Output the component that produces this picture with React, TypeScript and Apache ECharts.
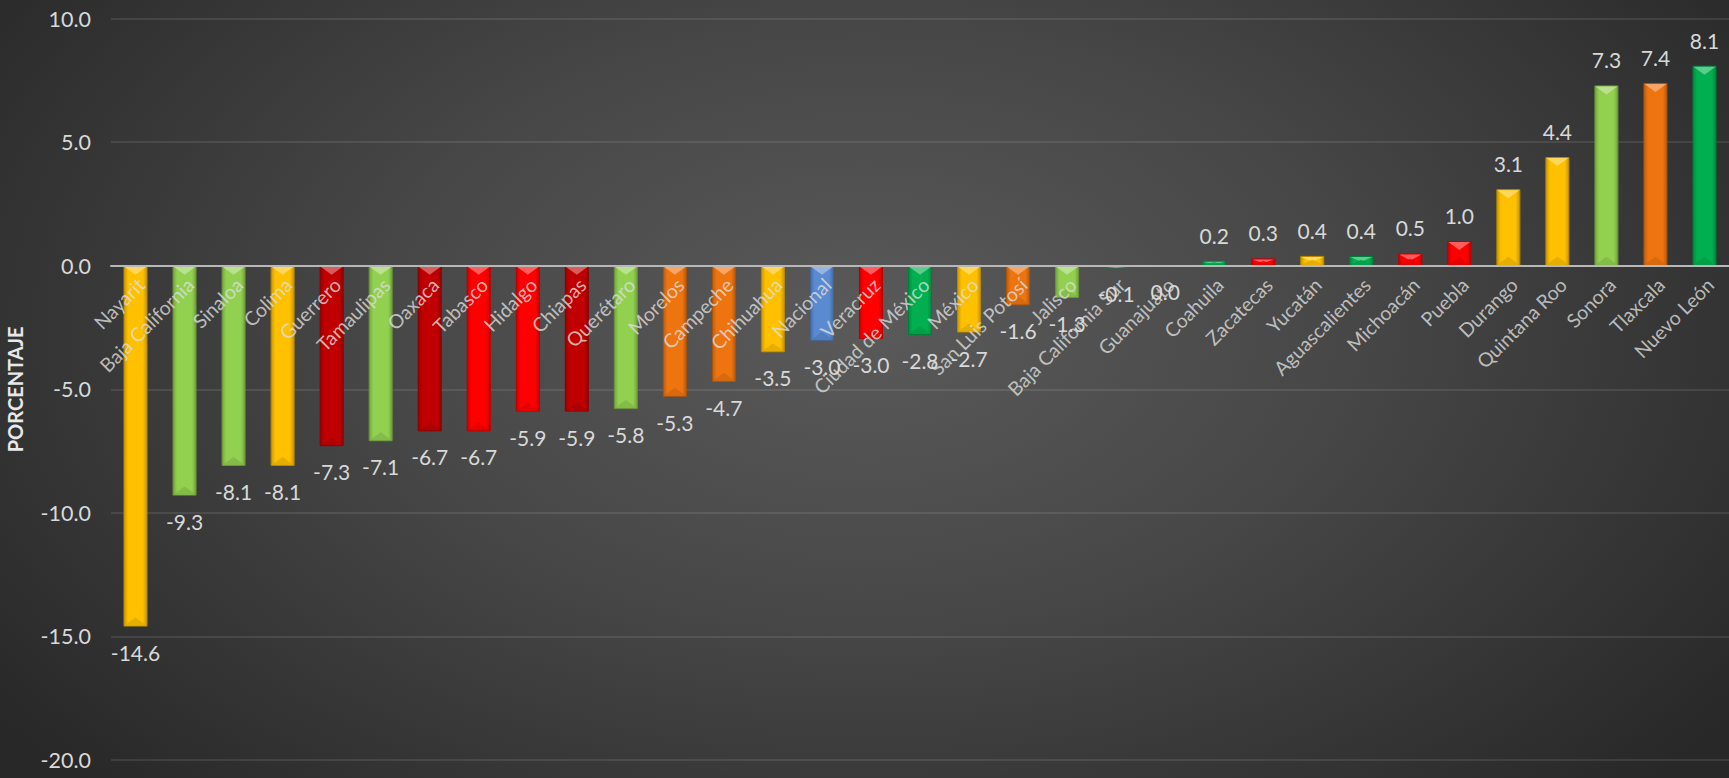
import React, { useEffect, useRef } from "react";
import * as echarts from "echarts";

const categories = [
  "Nayarit", "Baja California", "Sinaloa", "Colima", "Guerrero", "Tamaulipas",
  "Oaxaca", "Tabasco", "Hidalgo", "Chiapas", "Querétaro", "Morelos", "Campeche",
  "Chihuahua", "Nacional", "Veracruz", "Ciudad de México", "México",
  "San Luis Potosí", "Jalisco", "Baja California Sur", "Guanajuato", "Coahuila",
  "Zacatecas", "Yucatán", "Aguascalientes", "Michoacán", "Puebla", "Durango",
  "Quintana Roo", "Sonora", "Tlaxcala", "Nuevo León",
];

const values = [
  -14.6, -9.3, -8.1, -8.1, -7.3, -7.1, -6.7, -6.7, -5.9, -5.9, -5.8, -5.3, -4.7,
  -3.5, -3.04, -2.96, -2.8, -2.7, -1.6, -1.3, -0.1, 0.0, 0.2, 0.3, 0.4, 0.4, 0.5,
  1.0, 3.1, 4.4, 7.3, 7.4, 8.1,
];

const yTicks = { min: -20, max: 10, interval: 5 };

const Y = "#FFC000";
const LG = "#92D050";
const DR = "#C00000";
const R = "#FF0000";
const O = "#EE7410";
const G = "#00B050";
const B = "#5A8AD0";

const barColors = [
  Y, LG, LG, Y, DR, LG, DR, R, R, DR, LG, O, O, Y, B, R, G, Y, O, LG, G, G, G,
  R, Y, G, R, R, Y, Y, LG, O, G,
];

function shade(hex: string, f: number) {
  const n = parseInt(hex.slice(1), 16);
  const r = Math.round(((n >> 16) & 255) * f);
  const g = Math.round(((n >> 8) & 255) * f);
  const b = Math.round((n & 255) * f);
  return `rgb(${r},${g},${b})`;
}

function tint(hex: string, f: number) {
  const n = parseInt(hex.slice(1), 16);
  const mix = (c: number) => Math.round(c + (255 - c) * f);
  return `rgb(${mix((n >> 16) & 255)},${mix((n >> 8) & 255)},${mix(n & 255)})`;
}

const BAR_W = 24;

export default function App() {
  const ref = useRef<HTMLDivElement>(null);
  useEffect(() => {
    document.body.style.margin = "0";
    const chart = echarts.init(ref.current!, undefined, { renderer: "svg" });
    const font = "Lato, 'Open Sans', sans-serif";
    chart.setOption({
      animation: false,
      backgroundColor: "transparent",
      grid: {
        left: 111,
        right: 0,
        top: 18.7,
        bottom: 18,
        containLabel: false,
        outerBoundsMode: "none",
      },
      xAxis: {
        type: "category",
        data: categories,
        z: 5,
        axisLine: { onZero: true, lineStyle: { color: "#b8b8b8", width: 2 } },
        axisTick: { show: false },
        axisLabel: { show: false },
      },
      yAxis: {
        type: "value",
        min: yTicks.min,
        max: yTicks.max,
        interval: yTicks.interval,
        name: "PORCENTAJE",
        nameLocation: "middle",
        nameGap: 86,
        nameTextStyle: {
          color: "#e8e8e8",
          fontSize: 20,
          fontWeight: "bold",
          fontFamily: font,
        },
        axisLine: { show: false },
        axisTick: { show: false },
        axisLabel: {
          color: "#d9d9d9",
          fontSize: 21.5,
          fontFamily: font,
          margin: 20,
          formatter: (v: number) => v.toFixed(1),
        },
        splitLine: { lineStyle: { color: "rgba(255,255,255,0.13)", width: 1.5 } },
      },
      series: [
        {
          type: "bar",
          barWidth: BAR_W,
          data: values.map((v, i) => ({
            value: v,
            itemStyle: {
              color: {
                type: "linear",
                x: 0, y: 0, x2: 1, y2: 0,
                colorStops: [
                  { offset: 0, color: shade(barColors[i], 0.8) },
                  { offset: 0.18, color: barColors[i] },
                  { offset: 0.82, color: barColors[i] },
                  { offset: 1, color: shade(barColors[i], 0.78) },
                ],
              },
              borderColor: shade(barColors[i], 0.72),
              borderWidth: v === 0 ? 0 : 1,
            },
            label: {
              position: v > 0 ? "top" : "bottom",
              distance: v > 0 ? 15 : 15,
            },
          })),
          label: {
            show: true,
            color: "#d9d9d9",
            fontSize: 21,
            fontFamily: font,
            formatter: (p: any) => Number(p.value).toFixed(1),
          },
        },
        {
          type: "custom",
          z: 3,
          silent: true,
          data: values.map((v, i) => [i, v]),
          renderItem: (params: any, api: any) => {
            const i = api.value(0);
            const v = api.value(1);
            if (v === 0) return null;
            const p = api.coord([i, v]);
            const b = api.coord([i, 0]);
            const top = Math.min(p[1], b[1]);
            const bottom = Math.max(p[1], b[1]);
            const len = bottom - top;
            const h = Math.min(8, len / 2);
            const x = p[0];
            const hw = BAR_W / 2 - 1;
            const c = barColors[i];
            return {
              type: "group",
              children: [
                {
                  type: "polygon",
                  shape: {
                    points: [
                      [x - hw, top + 1],
                      [x + hw, top + 1],
                      [x, top + 1 + h],
                    ],
                  },
                  style: { fill: tint(c, 0.4), opacity: 0.9 },
                },
                {
                  type: "polygon",
                  shape: {
                    points: [
                      [x - hw, bottom - 1],
                      [x + hw, bottom - 1],
                      [x, bottom - 1 - h],
                    ],
                  },
                  style: { fill: shade(c, 0.88), opacity: 0.8 },
                },
              ],
            };
          },
        },
        {
          type: "scatter",
          z: 10,
          symbolSize: 1,
          itemStyle: { color: "rgba(0,0,0,0)" },
          silent: true,
          data: categories.map(() => 0),
          label: {
            show: true,
            position: "inside",
            align: "right",
            verticalAlign: "middle",
            rotate: 45,
            offset: [-7, 15],
            color: "#dedede",
            fontSize: 19.5,
            fontFamily: font,
            formatter: (p: any) => categories[p.dataIndex],
          },
        },
      ],
    });
    return () => chart.dispose();
  }, []);
  return (
    <div
      ref={ref}
      style={{
        width: 1729,
        height: 778,
        background:
          "radial-gradient(ellipse 62% 85% at 50% 42%, #5a5a5a 0%, #474747 45%, #282828 100%)",
      }}
    />
  );
}
